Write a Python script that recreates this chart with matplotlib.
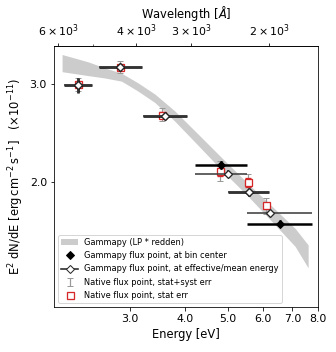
import matplotlib
matplotlib.use("Agg")
import matplotlib.pyplot as plt
import matplotlib.ticker as mticker
from matplotlib.lines import Line2D
from matplotlib.patches import Patch
import numpy as np

# model band (LP * redden), E in eV, E^2 dN/dE in 1e-11 erg cm-2 s-1
band_e = [2.107, 2.413, 2.633, 2.873, 3.128, 3.418, 3.795, 4.279, 4.825,
          5.556, 6.265, 7.10, 7.60]
band_lo = [3.15, 3.10, 3.07, 3.03, 2.91, 2.776, 2.57, 2.33, 2.11,
           1.89, 1.71, 1.539, 1.409]
band_hi = [3.38, 3.28, 3.20, 3.13, 3.01, 2.874, 2.68, 2.44, 2.22,
           1.99, 1.82, 1.657, 1.548]

# gammapy flux points
bin_lo = [2.13, 2.55, 3.22, 4.21, 5.00, 5.53]
bin_hi = [2.46, 3.19, 4.04, 5.53, 6.20, 7.76]
e_center = [2.29, 2.85, 3.61, 4.82, 5.57, 6.55]
flux_center = [2.98, 3.21, 2.63, 2.15, 1.92, 1.69]
e_eff = [2.29, 2.85, 3.61, 5.00, 5.59, 6.23]
flux_eff = [2.98, 3.21, 2.63, 2.07, 1.92, 1.765]
flux_err = [0.095, 0.03, 0.03, 0.035, 0.03, 0.025]

# native flux points
e_native = [2.29, 2.85, 3.55, 4.79, 5.55, 6.10]
flux_native = [2.99, 3.21, 2.64, 2.095, 2.00, 1.82]
err_stat = [0.03, 0.03, 0.03, 0.043, 0.035, 0.02]
err_tot = [0.08, 0.08, 0.07, 0.087, 0.07, 0.06]

wl_ticks = [2000, 3000, 4000, 6000]
wl_labels = [r"$2\times10^{3}$", r"$3\times10^{3}$", r"$4\times10^{3}$",
             r"$6\times10^{3}$"]

hc = 12398.4  # eV * Angstrom

fig = plt.figure(figsize=(336 / 72, 352 / 72), dpi=72)
ax = fig.add_axes([0.1607, 0.1278, 0.7857, 0.7415])

band_color = "0.8"
red = "#d62728"

ax.fill_between(band_e, band_lo, band_hi, color=band_color, lw=0, zorder=1)

e_center = np.array(e_center)
e_eff = np.array(e_eff)
xerr_c = [e_center - np.array(bin_lo), np.array(bin_hi) - e_center]
xerr_e = [e_eff - np.array(bin_lo), np.array(bin_hi) - e_eff]

ax.errorbar(e_native, flux_native, yerr=err_tot, fmt="none", ecolor="0.6",
            elinewidth=1.2, capsize=3, zorder=2,
            label="Native flux point, stat+syst err")
ax.errorbar(e_native, flux_native, yerr=err_stat, fmt="s", ms=7, mfc="white",
            mec=red, mew=1.3, ecolor=red, elinewidth=1.2, capsize=3, zorder=3)

ax.errorbar(e_center, flux_center, xerr=xerr_c, yerr=flux_err, fmt="D", ms=5,
            color="k", elinewidth=2.5, zorder=4)
ax.errorbar(e_eff, flux_eff, xerr=xerr_e, yerr=flux_err, fmt="D", ms=5,
            mfc="white", mec="0.15", mew=1.3, ecolor="0.25", elinewidth=1.6,
            zorder=5)

ax.set_xscale("log")
ax.set_yscale("log")
ax.set_xlim(2.02, 8.0)
ax.set_ylim(1.2, 3.5)

xt = [3, 4, 5, 6, 7, 8]
ax.xaxis.set_major_locator(mticker.FixedLocator(xt))
ax.xaxis.set_major_formatter(mticker.FixedFormatter([f"{v:.1f}" for v in xt]))
ax.xaxis.set_minor_locator(mticker.NullLocator())
yt = [2.0, 3.0]
ax.yaxis.set_major_locator(mticker.FixedLocator(yt))
ax.yaxis.set_major_formatter(mticker.FixedFormatter([f"{v:.1f}" for v in yt]))
ax.yaxis.set_minor_locator(mticker.NullLocator())
ax.tick_params(labelsize=11)

ax.set_xlabel("Energy [eV]", fontsize=11.5)
ax.set_ylabel(r"E$^2$ dN/dE [erg$\,$cm$^{-2}$$\,$s$^{-1}$]   ($\times 10^{-11}$)",
              fontsize=11.5)

sec = ax.secondary_xaxis("top", functions=(lambda e: hc / e, lambda w: hc / w))
sec.xaxis.set_major_locator(mticker.FixedLocator(wl_ticks))
sec.xaxis.set_major_formatter(mticker.FixedFormatter(wl_labels))
sec.xaxis.set_minor_locator(mticker.FixedLocator([5000]))
sec.xaxis.set_minor_formatter(mticker.NullFormatter())
sec.tick_params(labelsize=11)
sec.set_xlabel(r"Wavelength [$\AA$]", fontsize=11.5)

gray_handle = ax.containers[0]
handles = [
    Patch(facecolor=band_color, edgecolor="none", label="Gammapy (LP * redden)"),
    Line2D([], [], marker="D", color="k", ls="none", ms=5,
           label="Gammapy flux point, at bin center"),
    Line2D([], [], marker="D", color="0.15", mfc="white", ms=5, lw=1.6,
           label="Gammapy flux point, at effective/mean energy"),
    gray_handle,
    Line2D([], [], marker="s", ls="none", ms=7, mfc="white", mec=red, mew=1.3,
           label="Native flux point, stat err"),
]
ax.legend(handles=handles, loc="lower left", fontsize=8.2)

fig.savefig("out.png", dpi=72)
